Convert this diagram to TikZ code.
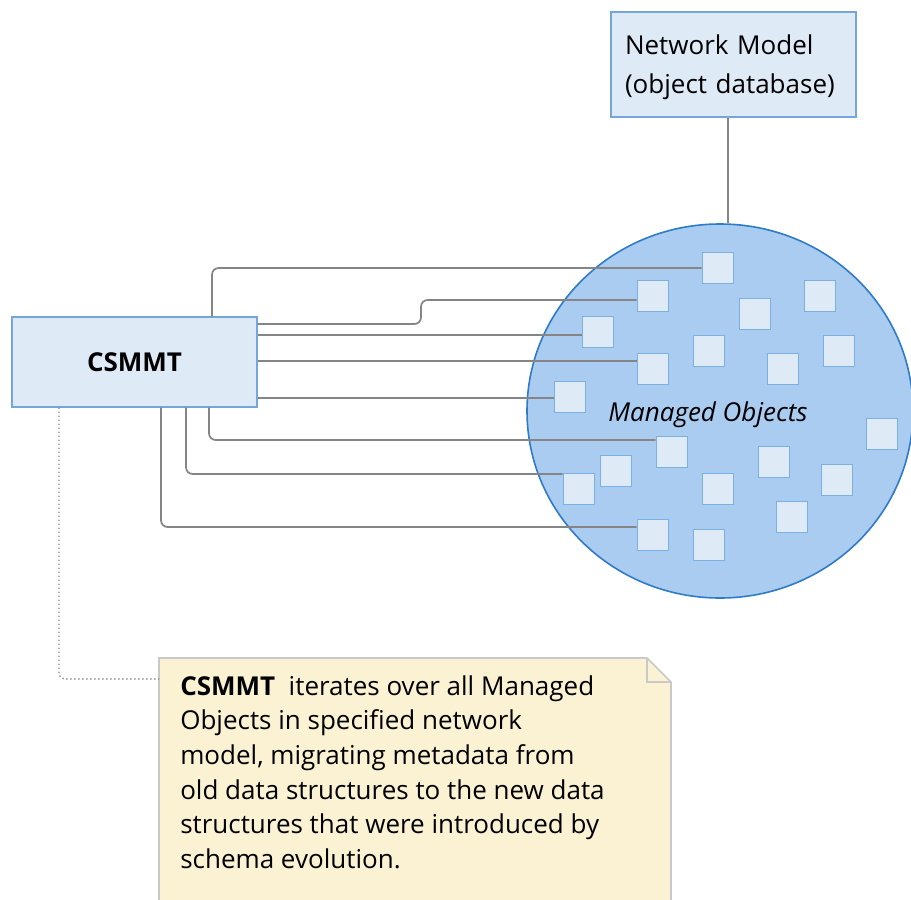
\documentclass[tikz,border=0pt]{standalone}
\usepackage{fontspec}
\setmainfont{Open Sans}
\usetikzlibrary{positioning,shapes.geometric}

\definecolor{boxfill}{HTML}{DEEAF6}
\definecolor{boxline}{HTML}{74A6DC}
\definecolor{poolfill}{HTML}{A9CCF0}
\definecolor{poolline}{HTML}{2F7BC8}
\definecolor{moline}{HTML}{7BB0E2}
\definecolor{wiregray}{HTML}{858585}
\definecolor{notefill}{HTML}{FBF2D4}
\definecolor{noteline}{HTML}{C9C9C9}

\begin{document}
\begin{tikzpicture}[x=0.75pt,y=-0.75pt,
  box/.style={draw=boxline, fill=boxfill, line width=1.1pt, inner sep=0pt},
  mo/.style={draw=moline, fill=boxfill, line width=1.3pt, minimum size=23.25pt, inner sep=0pt},
  wire/.style={draw=wiregray, line width=1.3pt, rounded corners=5pt},
  txt/.style={font=\fontsize{19.5pt}{26pt}\selectfont}]
\clip (0,0) rectangle (911,900);

% network model box
\node[box, txt, align=left, text width=162.75pt, inner xsep=10.5pt, minimum height=78.75pt,
  font=\fontsize{19.5pt}{29.5pt}\selectfont] (netmodel) at (733.5,64.5) {\rule{0pt}{19pt}Network Model\\(object database)};

% the pool of managed objects
\node[ellipse, draw=poolline, fill=poolfill, line width=1.2pt, inner sep=0pt,
  minimum width=289.5pt, minimum height=280.5pt] (pool) at (720,411) {};
\draw[wire] (netmodel.south -| 728,0) -- (pool.north -| 728,0);

\foreach \i/\x/\y in {1/718/268, 2/653/296, 3/820/296, 4/755/314, 5/598/332,
  6/709/351, 7/839/351, 8/653/369, 9/783/369, 10/570/397, 11/882/434,
  12/672/452, 13/774/462, 14/616/471, 15/579/489, 16/718/489, 17/837/480,
  18/792/517, 19/653/535, 20/709/545}
  \node[mo] (m\i) at (\x,\y) {};

\node[txt, font=\fontsize{19.5pt}{26pt}\selectfont\itshape] (molabel) at (708,415) {Managed Objects};

% migration tool
\node[box, minimum width=183.75pt, minimum height=67.5pt, txt, font=\fontsize{19.5pt}{26pt}\selectfont\bfseries] (csmmt) at (134.5,362) {CSMMT};

\draw[wire] (csmmt.north -| 212,0) |- (m1.west);
\draw[wire] (csmmt.east |- 0,324) -- (421,324) -- (421,300) -- (m2.west |- 0,300);
\draw[wire] (csmmt.east |- 0,335) -- (m5.west |- 0,335);
\draw[wire] (csmmt.east |- 0,361) -- (m8.west |- 0,361);
\draw[wire] (csmmt.east |- 0,398) -- (m10.west |- 0,398);
\draw[wire] (csmmt.south -| 209,0) |- (m12.west |- 0,440);
\draw[wire] (csmmt.south -| 186,0) |- (m15.west |- 0,474);
\draw[wire] (csmmt.south -| 161,0) |- (m19.west |- 0,527);

% note
\draw[draw=noteline, fill=notefill, line width=1.3pt, line join=miter]
  (159,658) -- (647,658) -- (671,682) -- (671,910) -- (159,910) -- cycle;
\draw[draw=noteline, line width=1.3pt] (647,658) -- (647,682) -- (671,682);
\coordinate (noteleft) at (159,679);
\node[txt, anchor=north west, align=left, inner sep=0pt] (notetext) at (180,675)
  {\textbf{CSMMT}\ \ iterates over all Managed\\Objects in specified network\\model, migrating metadata from\\old data structures to the new data\\structures that were introduced by\\schema evolution.};

\draw[wiregray, line width=1pt, dotted, rounded corners=4pt] (csmmt.south -| 59,0) |- (noteleft);
\end{tikzpicture}
\end{document}
